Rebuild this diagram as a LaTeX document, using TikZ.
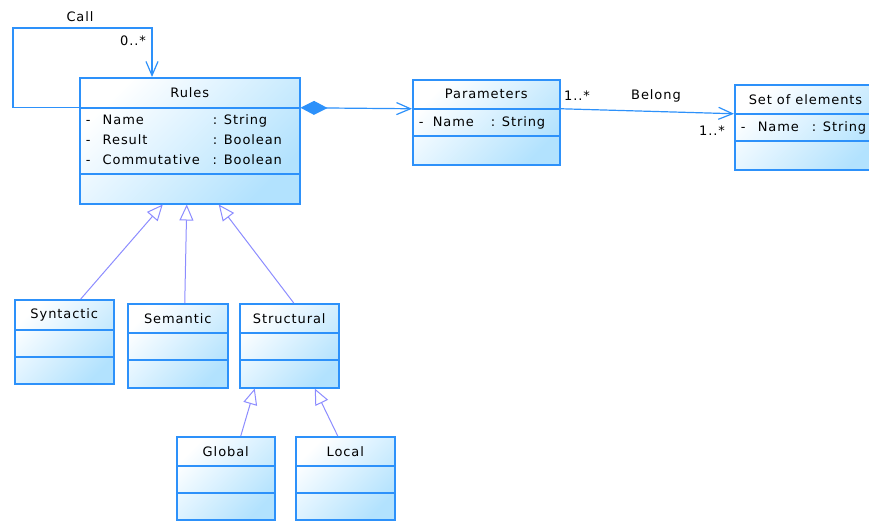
\documentclass[tikz,border=0pt]{standalone}
\usepackage{fontspec}
\setmainfont{DejaVu Sans}[LetterSpace=7]
\usetikzlibrary{arrows.meta, shapes.multipart}

\definecolor{umlblue}{RGB}{45,145,250}
\definecolor{umlfill}{RGB}{178,226,254}
\definecolor{genblue}{RGB}{140,140,255}

% one compartment of a class box: width, height, content
\newcommand{\cpart}[3]{\parbox[c][#2][c]{#1}{#3}}

\begin{document}
\begin{tikzpicture}[x=1pt,y=1pt,>={Straight Barb[length=14pt,width=12pt]},
        umlclass/.style={rectangle split,rectangle split parts=3,draw=umlblue,line width=1.5pt,
          inner sep=0pt,anchor=north west,top color=white,bottom color=umlfill,shading angle=45,
          font=\fontsize{13}{20}\selectfont},
        assoc/.style={draw=umlblue,line width=1.2pt},
        inherit/.style={draw=genblue,line width=1pt,-{Triangle[open,length=16pt,width=14pt]}},
        mult/.style={font=\fontsize{13}{15}\selectfont}]

  \useasboundingbox (0,0) rectangle (869,-520);

  % classes
  \node[umlclass] (rules) at (79,-77)
    {\cpart{220pt}{28.5pt}{\centering Rules}
     \nodepart{two}\cpart{220pt}{64.5pt}{\begin{tabular}{@{\hspace{6pt}}p{17pt}@{}p{110pt}@{}l@{}}
        - & Name & : String\\
        - & Result & : Boolean\\
        - & Commutative & : Boolean
      \end{tabular}}
     \nodepart{three}\cpart{220pt}{28.5pt}{}};
  \node[umlclass] (params) at (412,-79)
    {\cpart{147pt}{27.5pt}{\centering Parameters}
     \nodepart{two}\cpart{147pt}{25.5pt}{\begin{tabular}{@{\hspace{6pt}}p{14pt}@{}p{58pt}@{}l@{}}
        - & Name & : String
      \end{tabular}}
     \nodepart{three}\cpart{147pt}{27.5pt}{}};
  \node[umlclass] (elems) at (734,-84)
    {\cpart{145pt}{27.5pt}{\hspace{14pt}Set of elements\hfill}
     \nodepart{two}\cpart{145pt}{25.5pt}{\begin{tabular}{@{\hspace{6pt}}p{17pt}@{}p{54pt}@{}l@{}}
        - & Name & : String
      \end{tabular}}
     \nodepart{three}\cpart{145pt}{27.5pt}{}};

  \node[umlclass] (syn) at (14,-299)
    {\cpart{99pt}{28.5pt}{\centering Syntactic}\nodepart{two}\cpart{99pt}{25.5pt}{}\nodepart{three}\cpart{99pt}{25.5pt}{}};
  \node[umlclass] (sem) at (127,-303)
    {\cpart{100pt}{27.5pt}{\centering Semantic}\nodepart{two}\cpart{100pt}{25.5pt}{}\nodepart{three}\cpart{100pt}{26.5pt}{}};
  \node[umlclass] (struct) at (239,-303)
    {\cpart{99pt}{27.5pt}{\centering Structural}\nodepart{two}\cpart{99pt}{25.5pt}{}\nodepart{three}\cpart{99pt}{26.5pt}{}};
  \node[umlclass] (global) at (176,-436)
    {\cpart{98pt}{27.5pt}{\centering Global}\nodepart{two}\cpart{98pt}{25.5pt}{}\nodepart{three}\cpart{98pt}{25.5pt}{}};
  \node[umlclass] (local) at (295,-436)
    {\cpart{99pt}{27.5pt}{\centering Local}\nodepart{two}\cpart{99pt}{25.5pt}{}\nodepart{three}\cpart{99pt}{25.5pt}{}};

  % associations
  \coordinate (callcorner) at (13,-28);
  \draw[assoc,->] (rules.text split west) -| (callcorner) -| ([xshift=73pt]rules.north west);
  \node[mult] (calllbl) at (80,-17) {Call};
  \node[mult] (callmult) at (133,-41) {0..*};

  \draw[assoc,{Diamond[length=27pt,width=14pt]}->] (rules.text split east) -- (params.text split west);

  \draw[assoc,->] (params.text split east) -- (elems.text split west);
  \node[mult] (belmult1) at (577,-96) {1..*};
  \node[mult] (bellbl) at (656,-96) {Belong};
  \node[mult] (belmult2) at (712,-131) {1..*};

  % generalizations
  \draw[inherit] ([xshift=16.5pt]syn.north) -- ([xshift=-27pt]rules.south);
  \draw[inherit] ([xshift=7pt]sem.north) -- ([xshift=-3pt]rules.south);
  \draw[inherit] ([xshift=4.5pt]struct.north) -- ([xshift=29pt]rules.south);
  \draw[inherit] ([xshift=15pt]global.north) -- ([xshift=-34.5pt]struct.south);
  \draw[inherit] ([xshift=-7.5pt]local.north) -- ([xshift=25.5pt]struct.south);
\end{tikzpicture}
\end{document}
